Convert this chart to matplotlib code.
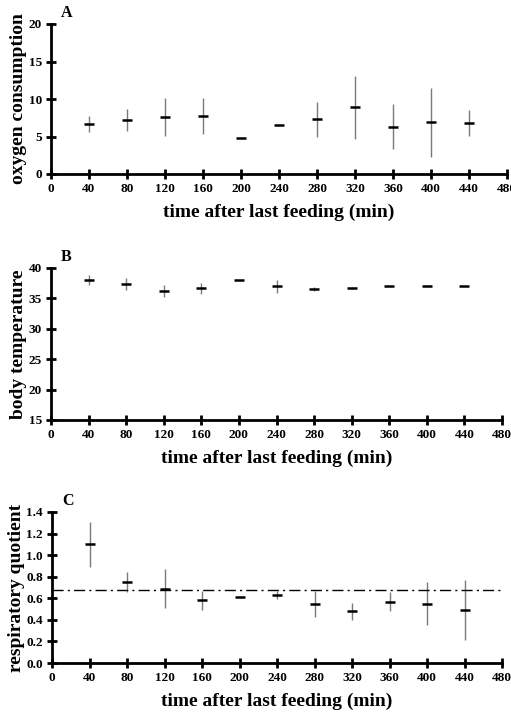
import matplotlib
matplotlib.use('Agg')
import matplotlib.pyplot as plt

plt.rcParams['font.family'] = ['Liberation Serif', 'DejaVu Serif']
plt.rcParams['font.weight'] = 'bold'

# time after last feeding (min)
times = [40, 80, 120, 160, 200, 240, 280, 320, 360, 400, 440]
xticks = list(range(0, 481, 40))

# A : oxygen consumption
o2_mean = [6.7, 7.2, 7.6, 7.8, 4.8, 6.5, 7.3, 8.9, 6.3, 6.9, 6.8]
o2_err = [1.1, 1.5, 2.5, 2.4, 0.0, 0.0, 2.3, 4.2, 3.0, 4.6, 1.7]

# B : body temperature
temp_mean = [38.0, 37.4, 36.2, 36.7, 38.0, 37.0, 36.5, 36.7, 37.0, 37.0, 37.0]
temp_err = [0.8, 1.0, 1.0, 0.9, 0.0, 1.1, 0.3, 0.2, 0.0, 0.0, 0.0]

# C : respiratory quotient
rq_mean = [1.10, 0.75, 0.69, 0.58, 0.61, 0.63, 0.55, 0.48, 0.57, 0.55, 0.49]
rq_err = [0.21, 0.09, 0.18, 0.09, 0.0, 0.04, 0.12, 0.08, 0.09, 0.20, 0.28]
rq_ref = 0.68

panels = [
    ('A', o2_mean, o2_err, (0, 20), [0, 5, 10, 15, 20], 'oxygen consumption', '%d',
     [51, 507, 24, 174]),
    ('B', temp_mean, temp_err, (15, 40), [15, 20, 25, 30, 35, 40], 'body temperature', '%d',
     [51, 502, 268, 420]),
    ('C', rq_mean, rq_err, (0, 1.4), [0, 0.2, 0.4, 0.6, 0.8, 1.0, 1.2, 1.4],
     'respiratory quotient', '%.1f', [52, 502, 512, 663]),
]

W, H = 511, 722
fig = plt.figure(figsize=(W / 100, H / 100), dpi=100)

for letter, mean, err, ylim, yticks, ylabel, fmt, box in panels:
    x0, x1, y0, y1 = box
    ax = fig.add_axes([x0 / W, 1 - y1 / H, (x1 - x0) / W, (y1 - y0) / H])
    ax.errorbar(times, mean, yerr=err, fmt='none', ecolor='#7a7a7a',
                elinewidth=1.0, capsize=0)
    ax.plot(times, mean, ls='none', marker='_', ms=7, mew=1.8, color='black')
    if letter == 'C':
        ax.plot([0, 480], [rq_ref, rq_ref], color='black', lw=1,
                ls=(0, (8, 3, 1.5, 3)))
    ax.set_xlim(0, 480)
    ax.set_ylim(*ylim)
    ax.set_xticks(xticks)
    ax.set_yticks(yticks)
    ax.set_yticklabels([fmt % v for v in yticks])
    for s in ['top', 'right']:
        ax.spines[s].set_visible(False)
    for s in ['left', 'bottom']:
        ax.spines[s].set_linewidth(2)
    ax.tick_params(direction='inout', length=7, width=2, labelsize=9.5, pad=3)
    ax.set_xlabel('time after last feeding (min)', fontsize=14, fontweight='bold',
                  labelpad=6)
    ax.set_ylabel(ylabel, fontsize=14, fontweight='bold', labelpad=1)
    ax.text(0.022, 1.02, letter, transform=ax.transAxes, fontsize=11.5,
            fontweight='bold', va='bottom')
    ax.patch.set_visible(False)

fig.savefig('out.png', dpi=100)
